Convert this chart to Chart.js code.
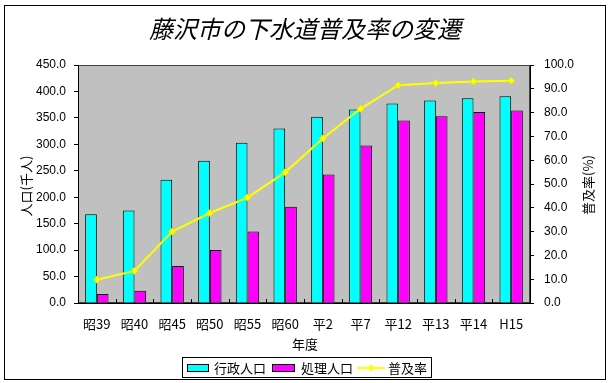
<!DOCTYPE html>
<html><head><meta charset="utf-8">
<script src="https://cdn.jsdelivr.net/npm/chart.js@4.4.0/dist/chart.umd.min.js"></script>
<style>html,body{margin:0;padding:0;background:#fff;}#wrap{width:610px;height:383px;position:relative;}</style>
</head><body><div id="wrap"><canvas id="c" width="610" height="383"></canvas></div>
<script>
const categories = ['昭39','昭40','昭45','昭50','昭55','昭60','平2','平7','平12','平13','平14','H15'];
const gyoseiPop = [168, 175, 233, 269, 303, 330, 352, 366, 377, 383, 387, 391];
const shoriPop  = [17, 23, 70, 100, 135, 182, 243, 298, 345, 353, 361, 364];
const fukyuRate = [9.8, 13.5, 30.0, 37.8, 44.3, 54.9, 69.1, 81.6, 91.5, 92.4, 93.1, 93.4];
const leftTicks = [0, 50, 100, 150, 200, 250, 300, 350, 400, 450];
const rightTicks = [0, 10, 20, 30, 40, 50, 60, 70, 80, 90, 100];

const TITLE = '藤沢市の下水道普及率の変遷';
const JP = '"Noto Sans CJK JP", "Noto Sans", sans-serif';
const NUM = '"Liberation Sans", Arial, sans-serif';

const deco = {
  id: 'deco',
  beforeDraw(chart) {
    const ctx = chart.ctx, a = chart.chartArea;
    ctx.save();
    ctx.fillStyle = '#fff';
    ctx.fillRect(0, 0, chart.width, chart.height);
    ctx.strokeStyle = '#000';
    ctx.lineWidth = 1;
    ctx.strokeRect(4.5, 5.5, 601, 374);
    ctx.fillStyle = '#C0C0C0';
    ctx.fillRect(a.left, a.top, a.right - a.left, a.bottom - a.top);
    ctx.strokeStyle = '#404040';
    ctx.strokeRect(a.left + 0.5, a.top + 0.5, a.right - a.left - 1, a.bottom - a.top - 1);
    const xs = chart.scales.x;
    ctx.strokeStyle = '#000';
    ctx.beginPath();
    for (let i = 0; i <= categories.length; i++) {
      const px = Math.round(xs.left + (xs.right - xs.left) * i / categories.length) + 0.5;
      ctx.moveTo(px, a.bottom); ctx.lineTo(px, a.bottom - 4);
    }
    ctx.stroke();
    ctx.fillStyle = '#000';
    ctx.font = 'italic 24px ' + JP;
    ctx.textAlign = 'center'; ctx.textBaseline = 'middle';
    ctx.fillText(TITLE, 305, 29);
    ctx.font = '13px ' + JP;
    ctx.fillText('年度', 305, 344);
    ctx.save(); ctx.translate(26, 186); ctx.rotate(-Math.PI / 2);
    ctx.fillText('人口(千人)', 0, 0); ctx.restore();
    ctx.save(); ctx.translate(588, 185); ctx.rotate(-Math.PI / 2);
    ctx.fillText('普及率(%)', 0, 0); ctx.restore();
    ctx.restore();
  },
  afterDraw(chart) {
    const ctx = chart.ctx, a = chart.chartArea;
    ctx.save();
    ctx.strokeStyle = '#000'; ctx.lineWidth = 1;
    ctx.beginPath();
    ctx.moveTo(a.left, a.bottom + 0.5); ctx.lineTo(a.right, a.bottom + 0.5);
    ctx.stroke();
    const ds = chart.data.datasets;
    ctx.strokeRect(182.5, 357.5, 249, 20);
    ctx.font = '13px ' + JP;
    ctx.textAlign = 'left'; ctx.textBaseline = 'middle';
    const cy = 368;
    ctx.fillStyle = ds[0].backgroundColor; ctx.fillRect(187, 364, 22, 8);
    ctx.strokeRect(187.5, 364.5, 21, 7);
    ctx.fillStyle = '#000'; ctx.fillText(ds[0].label, 214, cy);
    ctx.fillStyle = ds[1].backgroundColor; ctx.fillRect(272, 364, 23, 8);
    ctx.strokeRect(272.5, 364.5, 22, 7);
    ctx.fillStyle = '#000'; ctx.fillText(ds[1].label, 301, cy);
    ctx.strokeStyle = ds[2].borderColor; ctx.lineWidth = 2;
    ctx.beginPath(); ctx.moveTo(357, cy); ctx.lineTo(385, cy); ctx.stroke();
    ctx.fillStyle = ds[2].borderColor;
    ctx.beginPath(); ctx.moveTo(371, cy - 3.5); ctx.lineTo(374.5, cy); ctx.lineTo(371, cy + 3.5); ctx.lineTo(367.5, cy); ctx.closePath(); ctx.fill();
    ctx.fillStyle = '#000'; ctx.fillText(ds[2].label, 388, cy);
    ctx.restore();
  }
};

new Chart(document.getElementById('c'), {
  data: {
    labels: categories,
    datasets: [
      { type: 'bar', label: '行政人口', data: gyoseiPop, backgroundColor: '#00FFFF', borderColor: '#000', borderWidth: 1, yAxisID: 'y', order: 1, categoryPercentage: 0.62, barPercentage: 1.0 },
      { type: 'bar', label: '処理人口', data: shoriPop, backgroundColor: '#FF00FF', borderColor: '#000', borderWidth: 1, yAxisID: 'y', order: 1, categoryPercentage: 0.62, barPercentage: 1.0 },
      { type: 'line', label: '普及率', data: fukyuRate, borderColor: '#FFFF00', backgroundColor: '#FFFF00', borderWidth: 2, pointStyle: 'rectRot', pointRadius: 3.5, pointBorderWidth: 1, pointBorderColor: '#E8E800', yAxisID: 'y1', order: 0, tension: 0 }
    ]
  },
  options: {
    responsive: false, animation: false,
    layout: { padding: { top: 65, bottom: 0, left: 0, right: 0 } },
    plugins: { legend: { display: false }, title: { display: false }, tooltip: { enabled: false } },
    scales: {
      x: {
        offset: true,
        grid: { display: false },
        border: { display: false },
        ticks: { color: '#000', font: { family: JP, size: 13 }, padding: 5, maxRotation: 0, autoSkip: false },
        afterFit(s) { s.height = 80; }
      },
      y: {
        position: 'left', min: 0, max: 450,
        afterBuildTicks(s) { s.ticks = leftTicks.map(v => ({ value: v })); },
        grid: { drawOnChartArea: false, drawTicks: true, tickLength: 4, color: '#000' },
        border: { display: true, color: '#000' },
        ticks: { color: '#000', font: { family: NUM, size: 12 }, padding: 8, callback: v => Number(v).toFixed(1) },
        afterFit(s) { s.width = 78; }
      },
      y1: {
        position: 'right', min: 0, max: 100,
        afterBuildTicks(s) { s.ticks = rightTicks.map(v => ({ value: v })); },
        grid: { drawOnChartArea: false, drawTicks: true, tickLength: 4, color: '#000' },
        border: { display: true, color: '#000' },
        ticks: { color: '#000', font: { family: NUM, size: 12 }, padding: 10, callback: v => Number(v).toFixed(1) },
        afterFit(s) { s.width = 80; }
      }
    }
  },
  plugins: [deco]
});
</script></body></html>
